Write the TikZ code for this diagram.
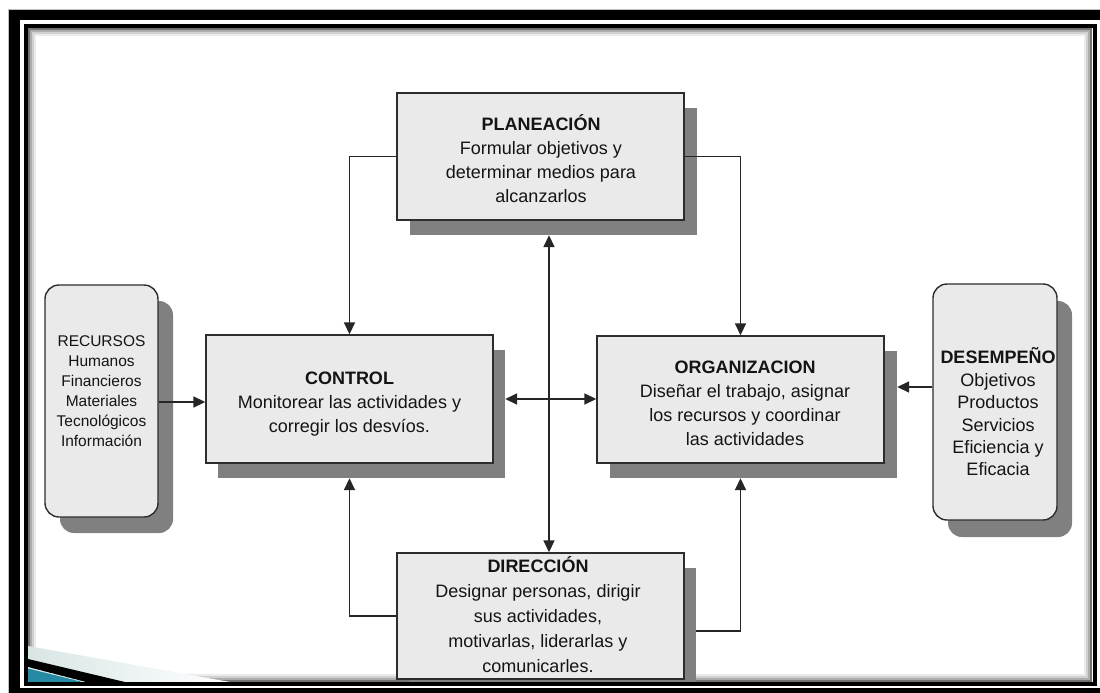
\documentclass[tikz,border=0pt]{standalone}
\usepackage{fontspec}
\setmainfont{Liberation Sans}
\usetikzlibrary{arrows.meta,calc}
\definecolor{boxfill}{RGB}{234,234,234}
\definecolor{boxshade}{RGB}{128,128,128}
\definecolor{edge}{RGB}{45,45,45}
\definecolor{swoosh}{RGB}{38,138,165}
\begin{document}
\begin{tikzpicture}[x=1pt,y=-1pt,
  panel/.style={draw=edge, line width=1.4pt, fill=boxfill, rectangle, inner sep=0pt},
  boxshadow/.style={fill=boxshade, draw=none, rectangle, inner sep=0pt},
  lbl/.style={align=center, text=black!92, inner sep=0pt, font=\fontsize{18}{24}\selectfont},
  link/.style={draw=black!85, line width=1.7pt},
  arr/.style={-{Triangle[length=12pt,width=11pt]}},
  dblarr/.style={{Triangle[length=12pt,width=11pt]}-{Triangle[length=12pt,width=11pt]}}
]
\useasboundingbox (0,0) rectangle (1100,693);

% outer frame
\fill[white] (0,0) rectangle (1100,693);
\draw[gray!50, line width=0.8pt] (8.5,700) |- (1110,9.5);
\fill[black] (9,10) rectangle (1110,700);
\fill[white] (20,20) rectangle (1100,688);

% soft inner shadow along the slide edge
\foreach \d/\c in {1/55,3/32,5/18,7/8}
  \draw[black!\c, line width=2pt] (28+\d,28+\d) rectangle (1092-\d,682-\d);

\begin{scope}
\clip (28,28) rectangle (1092,682);

% corner swoosh
\shade[left color=cyan!20!gray!25, right color=white] (28,646) -- (28,682) -- (230,682) -- cycle;
\fill[black] (28,659) -- (125,682) -- (86,682) -- (28,667) -- cycle;
\fill[swoosh] (28,668.5) -- (83,682) -- (28,682) -- cycle;
\draw[white!80!cyan, line width=0.6pt, dashed] (28,667.6) -- (84,682);

% shadows
\node[boxshadow, minimum width=287pt, minimum height=127pt] (planS) at (553.5,171.5) {};
\node[boxshadow, minimum width=287pt, minimum height=128pt] (ctrlS) at (361.5,414) {};
\node[boxshadow, minimum width=287pt, minimum height=127pt] (orgS) at (753.5,414.5) {};
\node[boxshadow, minimum width=287pt, minimum height=126pt] (dirS) at (552.5,631) {};
\node[boxshadow, rounded corners=14pt, minimum width=113pt, minimum height=232pt] (recS) at (116.5,417) {};
\node[boxshadow, rounded corners=14pt, minimum width=124pt, minimum height=236pt] (desS) at (1010,419) {};

% boxes
\node[panel, minimum width=287pt, minimum height=127pt] (plan) at (540.5,156.5) {};
\node[panel, minimum width=287pt, minimum height=128pt] (ctrl) at (349.5,399) {};
\node[panel, minimum width=287pt, minimum height=127pt] (org) at (740.5,399.5) {};
\node[panel, minimum width=287pt, minimum height=126pt] (dir) at (540.5,616) {};
\node[panel, rounded corners=14pt, minimum width=113pt, minimum height=232pt] (rec) at (101.5,401) {};
\node[panel, rounded corners=14pt, minimum width=124pt, minimum height=236pt] (des) at (995,402) {};

% texts
\node[lbl] (planT) at (541,159) {\textbf{PLANEACIÓN}\\Formular objetivos y\\determinar medios para\\alcanzarlos};
\node[lbl] (ctrlT) at (349.5,404) {\textbf{CONTROL}\\Monitorear las actividades y\\corregir los desvíos.};
\node[lbl] (orgT) at (745,403.5) {\textbf{ORGANIZACION}\\Diseñar el trabajo, asignar\\los recursos y coordinar\\las actividades};
\node[lbl, font=\fontsize{18}{25}\selectfont] (dirT) at (538,615) {\textbf{DIRECCIÓN}\\Designar personas, dirigir\\sus actividades,\\motivarlas, liderarlas y\\comunicarles.};
\begin{scope}
\clip (40,285) rectangle (165,451);
\node[lbl, font=\fontsize{15.5}{20}\selectfont] (recT) at (101.5,391) {RECURSOS\\Humanos\\Financieros\\Materiales\\Tecnológicos\\Información};
\end{scope}
\node[lbl, font=\fontsize{18}{22.4}\selectfont] (desT) at (998,412) {\textbf{DESEMPEÑO}\\Objetivos\\Productos\\Servicios\\Eficiencia y\\Eficacia};

% connectors
\coordinate (vx) at (549,0);
\coordinate (hy) at (0,399);
\coordinate (ry) at (0,402);
\coordinate (dy) at (0,387);
\draw[link,arr] (plan.west) -| (ctrl.north);
\draw[link,arr] (plan.east) -| (org.north);
\draw[link,arr] (dir.west) -| (ctrl.south |- ctrlS.south);
\draw[link,arr] (dirS.east) -| (org.south |- orgS.south);
\draw[link,dblarr] (planS.south -| vx) -- (dir.north -| vx);
\draw[link,dblarr] (ctrlS.east |- hy) -- (org.west |- hy);
\draw[link,arr] (rec.east |- ry) -- (ctrl.west |- ry);
\draw[link,arr] (des.west |- dy) -- (orgS.east |- dy);
\end{scope}

% slide border
\draw[black, line width=4pt] (26,26) rectangle (1094.5,684);
\end{tikzpicture}
\end{document}
